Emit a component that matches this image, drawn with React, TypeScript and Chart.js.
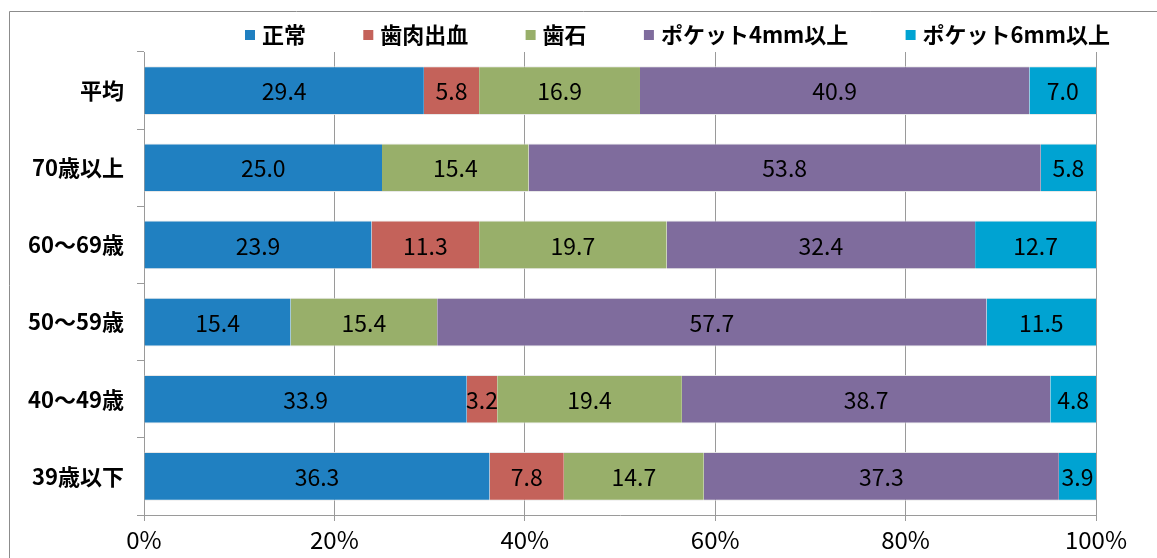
import React, { useEffect, useRef } from "react";
import { Chart, registerables } from "chart.js";

Chart.register(...registerables);

const categories = ["平均", "70歳以上", "60～69歳", "50～59歳", "40～49歳", "39歳以下"];
const seriesNames = ["正常", "歯肉出血", "歯石", "ポケット4mm以上", "ポケット6mm以上"];
const normal = [29.4, 25.0, 23.9, 15.4, 33.9, 36.3];
const bleeding = [5.8, 0, 11.3, 0, 3.2, 7.8];
const calculus = [16.9, 15.4, 19.7, 15.4, 19.4, 14.7];
const pocket4 = [40.9, 53.8, 32.4, 57.7, 38.7, 37.3];
const pocket6 = [7.0, 5.8, 12.7, 11.5, 4.8, 3.9];
const seriesValues = [normal, bleeding, calculus, pocket4, pocket6];
const seriesColors = ["#2080C1", "#C4625A", "#98AF6A", "#7F6C9D", "#00A3D2"];
const xTicks = [0, 20, 40, 60, 80, 100];

const FONT = "'Noto Sans CJK JP', 'Noto Sans', sans-serif";

const framePlugin = {
  id: "frame",
  beforeDraw(chart: any) {
    const ctx = chart.ctx;
    ctx.save();
    ctx.fillStyle = "#ffffff";
    ctx.fillRect(0, 0, chart.width, chart.height);
    ctx.strokeStyle = "#8c8c8c";
    ctx.lineWidth = 1;
    ctx.beginPath();
    ctx.moveTo(9.5, chart.height + 5);
    ctx.lineTo(9.5, 11.5);
    ctx.lineTo(chart.width + 5, 11.5);
    ctx.stroke();
    ctx.restore();
  },
};

const labelPlugin = {
  id: "valueLabels",
  afterDatasetsDraw(chart: any) {
    const ctx = chart.ctx;
    ctx.save();
    ctx.font = `23px ${FONT}`;
    ctx.fillStyle = "#000000";
    ctx.textAlign = "center";
    ctx.textBaseline = "middle";
    chart.data.datasets.forEach((ds: any, di: number) => {
      const meta = chart.getDatasetMeta(di);
      meta.data.forEach((el: any, i: number) => {
        const v = ds.data[i];
        if (!v) return;
        const cx = (el.x + el.base) / 2;
        ctx.fillText(v.toFixed(1), cx, el.y + 1);
      });
    });
    ctx.restore();
  },
};

const legendPlugin = {
  id: "customLegend",
  afterDraw(chart: any) {
    const ctx = chart.ctx;
    ctx.save();
    ctx.font = `bold 22px ${FONT}`;
    ctx.textBaseline = "middle";
    const box = 10;
    const boxGap = 7;
    const startX = 245;
    const endX = 1110;
    const cy = 35;
    const widths = seriesNames.map((n) => box + boxGap + ctx.measureText(n).width);
    const total = widths.reduce((a, b) => a + b, 0);
    const gap = (endX - startX - total) / (seriesNames.length - 1);
    let x = startX;
    seriesNames.forEach((n, i) => {
      ctx.fillStyle = seriesColors[i];
      ctx.fillRect(x, cy - box / 2, box, box);
      ctx.fillStyle = "#000000";
      ctx.textAlign = "left";
      ctx.fillText(n, x + box + boxGap, cy);
      x += widths[i] + gap;
    });
    ctx.restore();
  },
};

export default function App() {
  const ref = useRef<HTMLCanvasElement>(null);
  useEffect(() => {
    if (!ref.current) return;
    Chart.defaults.font.family = FONT;
    const chart = new Chart(ref.current, {
      type: "bar",
      data: {
        labels: categories,
        datasets: seriesNames.map((name, i) => ({
          label: name,
          data: seriesValues[i],
          backgroundColor: seriesColors[i],
          borderColor: "rgba(230,230,230,0.9)",
          borderWidth: { top: 1, bottom: 1, left: 0, right: 0 },
          borderSkipped: false,
          barPercentage: 0.63,
          categoryPercentage: 1,
        })),
      },
      options: {
        indexAxis: "y",
        responsive: false,
        animation: false,
        layout: { padding: { top: 52, right: 61, left: 0, bottom: 0 } },
        plugins: {
          legend: { display: false },
          tooltip: { enabled: false },
        },
        scales: {
          x: {
            stacked: true,
            min: 0,
            max: 100,
            afterFit: (s: any) => {
              s.height = 43;
            },
            afterBuildTicks: (s: any) => {
              s.ticks = xTicks.map((v) => ({ value: v }));
            },
            ticks: {
              callback: (v: any) => `${v}%`,
              font: { size: 24 },
              color: "#000000",
              padding: 4,
              maxRotation: 0,
            },
            grid: { color: "#9a9a9a", tickLength: 6, lineWidth: 1 },
            border: { color: "#9a9a9a" },
          },
          y: {
            stacked: true,
            afterFit: (s: any) => {
              s.width = 144;
            },
            ticks: {
              font: { size: 22, weight: "bold" },
              color: "#000000",
              padding: 13,
            },
            grid: { drawOnChartArea: false, offset: true, tickLength: 7, color: "#9a9a9a" },
            border: { color: "#9a9a9a" },
          },
        },
      },
      plugins: [framePlugin, labelPlugin, legendPlugin],
    });
    return () => chart.destroy();
  }, []);
  return (
    <div style={{ position: "fixed", left: 0, top: 0, width: 1157, height: 558 }}>
      <canvas ref={ref} width={1157} height={558} style={{ width: 1157, height: 558, display: "block" }} />
    </div>
  );
}
